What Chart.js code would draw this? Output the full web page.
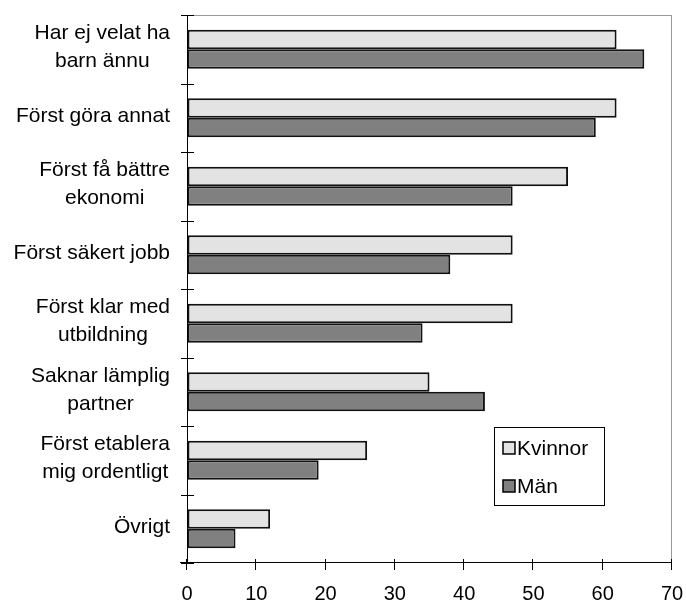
<!DOCTYPE html>
<html>
<head>
<meta charset="utf-8">
<script src="https://cdn.jsdelivr.net/npm/chart.js@4/dist/chart.umd.min.js"></script>
<style>
    body { margin: 0; background: #fff; }
</style>
</head>
<body>
<canvas id="chart" width="686" height="604"></canvas>
<script>
// data (percent)
const categories = [
    ['Har ej velat ha', 'barn ännu'],
    ['Först göra annat'],
    ['Först få bättre', 'ekonomi'],
    ['Först säkert jobb'],
    ['Först klar med', 'utbildning'],
    ['Saknar lämplig', 'partner'],
    ['Först etablera', 'mig ordentligt'],
    ['Övrigt']
];
const seriesNames = ['Kvinnor', 'Män'];
const kvinnor = [62, 62, 55, 47, 47, 35, 26, 12];
const man = [66, 59, 47, 38, 34, 43, 19, 7];
const xTicks = [0, 10, 20, 30, 40, 50, 60, 70];

const FONT = "'Liberation Sans', Arial, sans-serif";

// ticks that cross the axes + grey frame on top/right
const framePlugin = {
    id: 'frame',
    afterDraw(chart) {
        const ctx = chart.ctx;
        const a = chart.chartArea;
        const x = chart.scales.x, y = chart.scales.y;
        ctx.save();
        ctx.lineWidth = 1;
        ctx.strokeStyle = '#999';
        ctx.beginPath();
        ctx.moveTo(a.left, a.top + 0.5); ctx.lineTo(a.right, a.top + 0.5);
        ctx.moveTo(a.right - 0.5, a.top); ctx.lineTo(a.right - 0.5, a.bottom);
        ctx.stroke();

        ctx.strokeStyle = '#000';
        ctx.beginPath();
        ctx.moveTo(a.left + 0.5, a.top); ctx.lineTo(a.left + 0.5, a.bottom);
        ctx.moveTo(a.left - 7, a.bottom - 0.5); ctx.lineTo(a.right, a.bottom - 0.5);
        for (let i = 0; i <= categories.length; i++) {
            const py = Math.round(y.getPixelForValue(i - 0.5)) + 0.5;
            ctx.moveTo(a.left - 6, py); ctx.lineTo(a.left + 7, py);
        }
        xTicks.forEach(v => {
            const px = Math.round(x.getPixelForValue(v)) - 0.5;
            ctx.moveTo(px, a.bottom - 4); ctx.lineTo(px, a.bottom + 7);
        });
        ctx.stroke();

        // category labels: block right aligned, lines centered in the block
        ctx.font = '21px ' + FONT;
        ctx.fillStyle = '#000';
        ctx.textAlign = 'center';
        ctx.textBaseline = 'middle';
        const lineH = 28;
        categories.forEach((lines, i) => {
            const w = Math.max(...lines.map(l => ctx.measureText(l).width));
            const cx = a.left - 17 - w / 2;
            const cy = y.getPixelForValue(i) - 2;
            lines.forEach((l, j) => {
                ctx.fillText(l, cx, cy + (j - (lines.length - 1) / 2) * lineH);
            });
        });

        // legend box
        const lx = a.left + 307, ly = a.top + 412, lw = 110, lh = 78;
        ctx.fillStyle = '#fff';
        ctx.fillRect(lx, ly, lw, lh);
        ctx.strokeStyle = '#000';
        ctx.strokeRect(lx + 0.5, ly + 0.5, lw, lh);
        ctx.textAlign = 'left';
        chart.data.datasets.forEach((ds, i) => {
            const sy = ly + 15 + i * 38;
            ctx.fillStyle = ds.backgroundColor;
            ctx.fillRect(lx + 9, sy, 12, 12);
            ctx.lineWidth = 1.5;
            ctx.strokeRect(lx + 9, sy, 12, 12);
            ctx.fillStyle = '#000';
            ctx.fillText(ds.label, lx + 23, sy + 7);
        });
        ctx.restore();
    }
};

new Chart(document.getElementById('chart'), {
    type: 'bar',
    data: {
        labels: categories,
        datasets: [
            { label: seriesNames[0], data: kvinnor, backgroundColor: '#e3e3e3', borderColor: '#111', borderWidth: 2, borderSkipped: false },
            { label: seriesNames[1], data: man, backgroundColor: '#808080', borderColor: '#111', borderWidth: 2, borderSkipped: false }
        ]
    },
    options: {
        indexAxis: 'y',
        responsive: false,
        animation: false,
        layout: { padding: { top: 15, right: 14, left: 0, bottom: 0 } },
        datasets: { bar: { categoryPercentage: 0.57, barPercentage: 1.0 } },
        plugins: { legend: { display: false }, tooltip: { enabled: false } },
        scales: {
            x: {
                min: 0, max: 70,
                afterBuildTicks: s => { s.ticks = xTicks.map(v => ({ value: v })); },
                afterFit: s => { s.height = 41; s.paddingLeft = 0; s.paddingRight = 0; },
                grid: { drawOnChartArea: false, drawTicks: false },
                border: { display: false },
                ticks: { color: '#000', padding: 19, font: { family: FONT, size: 20 } }
            },
            y: {
                afterFit: s => { s.width = 187; },
                grid: { drawOnChartArea: false, drawTicks: false },
                border: { display: false },
                ticks: { display: false }
            }
        }
    },
    plugins: [framePlugin]
});
</script>
</body>
</html>
